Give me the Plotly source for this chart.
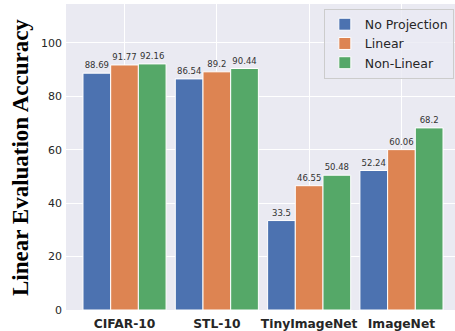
import plotly.graph_objects as go

categories = ["CIFAR-10", "STL-10", "TinyImageNet", "ImageNet"]
no_projection = [88.69, 86.54, 33.5, 52.24]
linear = [91.77, 89.2, 46.55, 60.06]
non_linear = [92.16, 90.44, 50.48, 68.2]
labels_np = ["88.69", "86.54", "33.5", "52.24"]
labels_l = ["91.77", "89.2", "46.55", "60.06"]
labels_nl = ["92.16", "90.44", "50.48", "68.2"]
y_ticks = [0, 20, 40, 60, 80, 100]

series = [
    ("No Projection", no_projection, labels_np, "#4C72B0"),
    ("Linear", linear, labels_l, "#DD8452"),
    ("Non-Linear", non_linear, labels_nl, "#55A868"),
]

fig = go.Figure()
for name, vals, labs, color in series:
    fig.add_trace(go.Bar(
        name=name, x=categories, y=vals, text=labs,
        textposition="outside", constraintext="none", cliponaxis=False,
        textfont=dict(family="DejaVu Sans", size=8.5, color="#333333"),
        marker=dict(color=color, line=dict(color="white", width=1)),
    ))

fig.update_layout(
    width=455, height=331,
    margin=dict(l=66, r=0, t=4, b=21, autoexpand=False),
    paper_bgcolor="white", plot_bgcolor="#EAEAF2",
    barmode="group", bargap=0.1, bargroupgap=0,
    font=dict(family="DejaVu Sans", color="#262626"),
    legend=dict(
        x=0.997, y=0.985, xanchor="right", yanchor="top",
        bgcolor="rgba(234,234,242,0.8)", bordercolor="#CCCCCC", borderwidth=1,
        font=dict(size=12.5, color="#262626"), tracegroupgap=0,
    ),
    showlegend=True,
    annotations=[dict(
        text="<b>Linear Evaluation Accuracy</b>", xref="paper", yref="paper",
        x=-0.1183, y=0.5, xanchor="center", yanchor="middle", textangle=-90,
        showarrow=False,
        font=dict(family="Liberation Serif", size=23, color="black"),
    )],
)
fig.update_xaxes(
    type="category", range=[-0.634, 3.58], showgrid=True, gridcolor="white",
    ticks="", tickfont=dict(family="DejaVu Sans", size=12.3, color="#262626", weight="bold"),
    zeroline=False, showline=False, automargin=False, ticklabelstandoff=5,
)
fig.update_yaxes(
    range=[0, 114.6], tickvals=y_ticks, showgrid=True, gridcolor="white",
    ticks="", tickfont=dict(size=11, color="#262626"), zeroline=False,
    automargin=False, ticklabelstandoff=3,
)
fig.write_html("out.html", config={"displayModeBar": False},
               post_script="document.body.style.margin='0';document.body.style.overflow='hidden';")
